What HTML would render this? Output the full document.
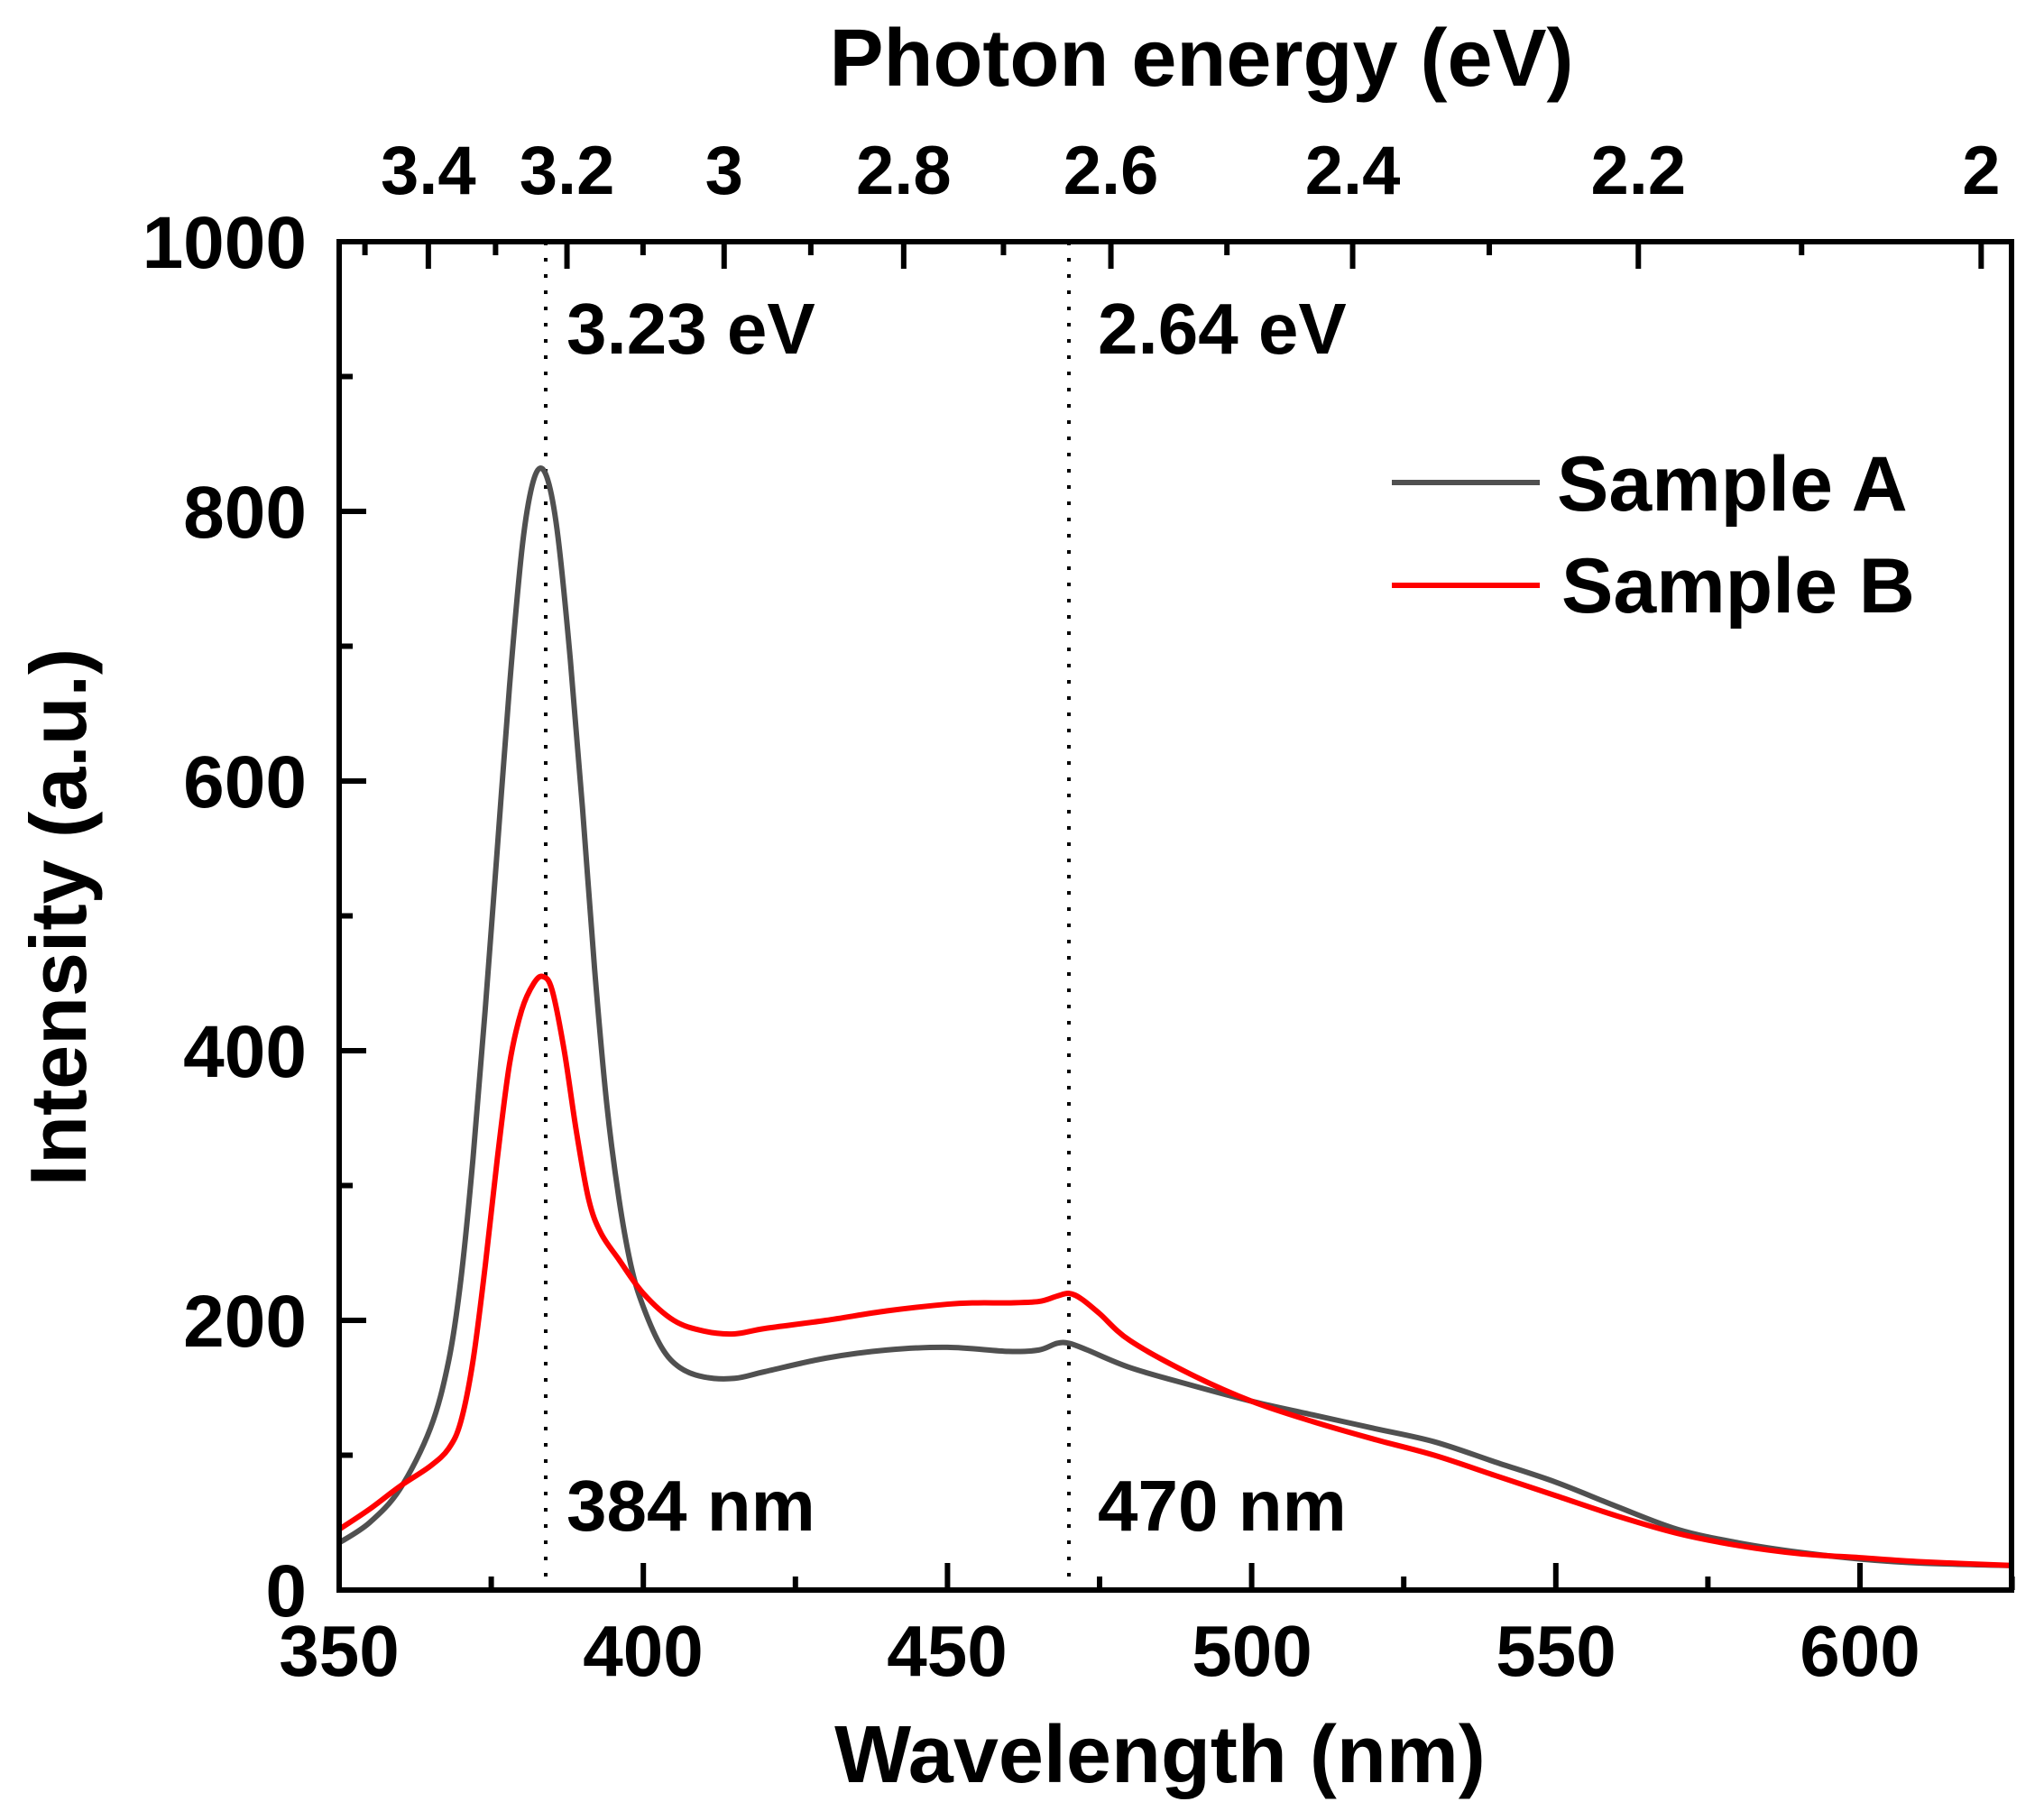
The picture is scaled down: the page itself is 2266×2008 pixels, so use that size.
<!DOCTYPE html>
<html><head><meta charset="utf-8"><style>
html,body{margin:0;padding:0;background:#fff;}
svg{display:block;}
text{font-family:"Liberation Sans",Arial,sans-serif;font-weight:bold;fill:#000;}
</style></head><body>
<svg id="s" width="2266" height="2008" viewBox="0 0 2266 2008" xmlns="http://www.w3.org/2000/svg">
<defs><clipPath id="c"><rect x="376" y="268" width="1854" height="1495"/></clipPath></defs>
<g id="ticks"></g>
<line x1="605" y1="268" x2="605" y2="1763" stroke="#000" stroke-width="4" stroke-dasharray="4,14"/>
<line x1="1185" y1="268" x2="1185" y2="1763" stroke="#000" stroke-width="4" stroke-dasharray="4,14"/>
<g clip-path="url(#c)">
<path id="pa" fill="none" stroke="#505050" stroke-width="6" stroke-linejoin="round"/>
<path id="pb" fill="none" stroke="#ff0000" stroke-width="6" stroke-linejoin="round"/>
</g>
<rect x="376" y="268" width="1854" height="1495" fill="none" stroke="#000" stroke-width="6"/>
<g font-size="82" text-anchor="end">
<text x="340" y="1792">0</text><text x="340" y="1493">200</text><text x="340" y="1194">400</text>
<text x="340" y="895">600</text><text x="340" y="596">800</text><text x="340" y="297">1000</text>
</g>
<g font-size="80" text-anchor="middle">
<text x="376" y="1858">350</text><text x="713" y="1858">400</text><text x="1050" y="1858">450</text>
<text x="1388" y="1858">500</text><text x="1725" y="1858">550</text><text x="2062" y="1858">600</text>
</g>
<g id="top" font-size="76" text-anchor="middle"></g>
<text x="1332" y="95" font-size="90" text-anchor="middle">Photon energy (eV)</text>
<text x="1286" y="1976" font-size="90" text-anchor="middle">Wavelength (nm)</text>
<text transform="translate(95,1017) rotate(-90)" font-size="88" text-anchor="middle">Intensity (a.u.)</text>
<g font-size="80">
<text x="628" y="392">3.23 eV</text><text x="1217" y="392">2.64 eV</text>
<text x="628" y="1697">384 nm</text><text x="1217" y="1697">470 nm</text>
</g>
<line x1="1543" y1="535" x2="1707" y2="535" stroke="#505050" stroke-width="6"/>
<line x1="1543" y1="649" x2="1707" y2="649" stroke="#ff0000" stroke-width="6"/>
<g font-size="86"><text x="1726" y="566">Sample A</text><text x="1731" y="679">Sample B</text></g>
</svg>
<script>
var X=function(n){return 376+(n-350)*6.744;},Y=function(v){return 1763-v*1.495;};
var NS="http://www.w3.org/2000/svg";
var t=document.getElementById("ticks"),tp=document.getElementById("top");
function ln(x1,y1,x2,y2){var l=document.createElementNS(NS,"line");l.setAttribute("x1",x1);l.setAttribute("y1",y1);l.setAttribute("x2",x2);l.setAttribute("y2",y2);l.setAttribute("stroke","#000");l.setAttribute("stroke-width","6");t.appendChild(l);}
for(var n=350;n<=625;n+=25){var x=X(n),L=(n%50==0)?30:15;ln(x,1763,x,1763-L);}
for(var v=0;v<=1000;v+=100){var y=Y(v),L=(v%200==0)?30:15;ln(376,y,376+L,y);}
for(var e=35;e>=20;e--){var E=e/10,x=X(1239.84/E);if(x>2228)continue;var L=(e%2==0)?30:15;ln(x,268,x,268+L);
 if(e%2==0){var tx=document.createElementNS(NS,"text");tx.setAttribute("x",x);tx.setAttribute("y",215);tx.textContent=(E==3||E==2)?String(E):E.toFixed(1);tp.appendChild(tx);}}
var A=[[350,35],[355,50],[360,75],[365,120],[368,170],[370,230],[372,320],[374,430],[376,550],[378,670],[380,770],[381.5,815],[383,832],[384.5,820],[386,780],[388,690],[390,580],[392,460],[394,360],[396,290],[398,240],[400,210],[403,180],[406,165],[410,158],[415,157],[420,162],[430,172],[440,178],[450,180],[460,177],[465,178],[468,183],[470,183],[473,178],[480,165],[490,152],[500,140],[510,130],[520,120],[530,110],[540,95],[550,80],[560,62],[570,45],[580,35],[590,28],[600,23],[610,20],[626,18]];
var B=[[350,45],[355,60],[360,77],[365,92],[368,105],[370,125],[372,170],[374,240],[376,320],[378,390],[380,430],[382,450],[383.5,455],[385,445],[387,400],[389,340],[391,290],[393,265],[396,245],[400,220],[405,200],[410,192],[415,190],[420,194],[430,200],[440,207],[450,212],[455,213],[460,213],[465,214],[468,218],[470,220],[472,216],[475,205],[480,185],[490,160],[500,140],[510,125],[520,112],[530,100],[540,85],[550,70],[560,55],[570,42],[580,33],[590,27],[600,24],[610,21],[626,18]];
function path(d){var p=d.map(function(q){return [X(q[0]),Y(q[1])];});var s="M"+p[0][0]+","+p[0][1];
for(var i=0;i<p.length-1;i++){var p0=p[Math.max(0,i-1)],p1=p[i],p2=p[i+1],p3=p[Math.min(p.length-1,i+2)];
s+=" C"+(p1[0]+(p2[0]-p0[0])/6)+","+(p1[1]+(p2[1]-p0[1])/6)+" "+(p2[0]-(p3[0]-p1[0])/6)+","+(p2[1]-(p3[1]-p1[1])/6)+" "+p2[0]+","+p2[1];}return s;}
document.getElementById("pa").setAttribute("d",path(A));
document.getElementById("pb").setAttribute("d",path(B));
</script>
</body></html>
